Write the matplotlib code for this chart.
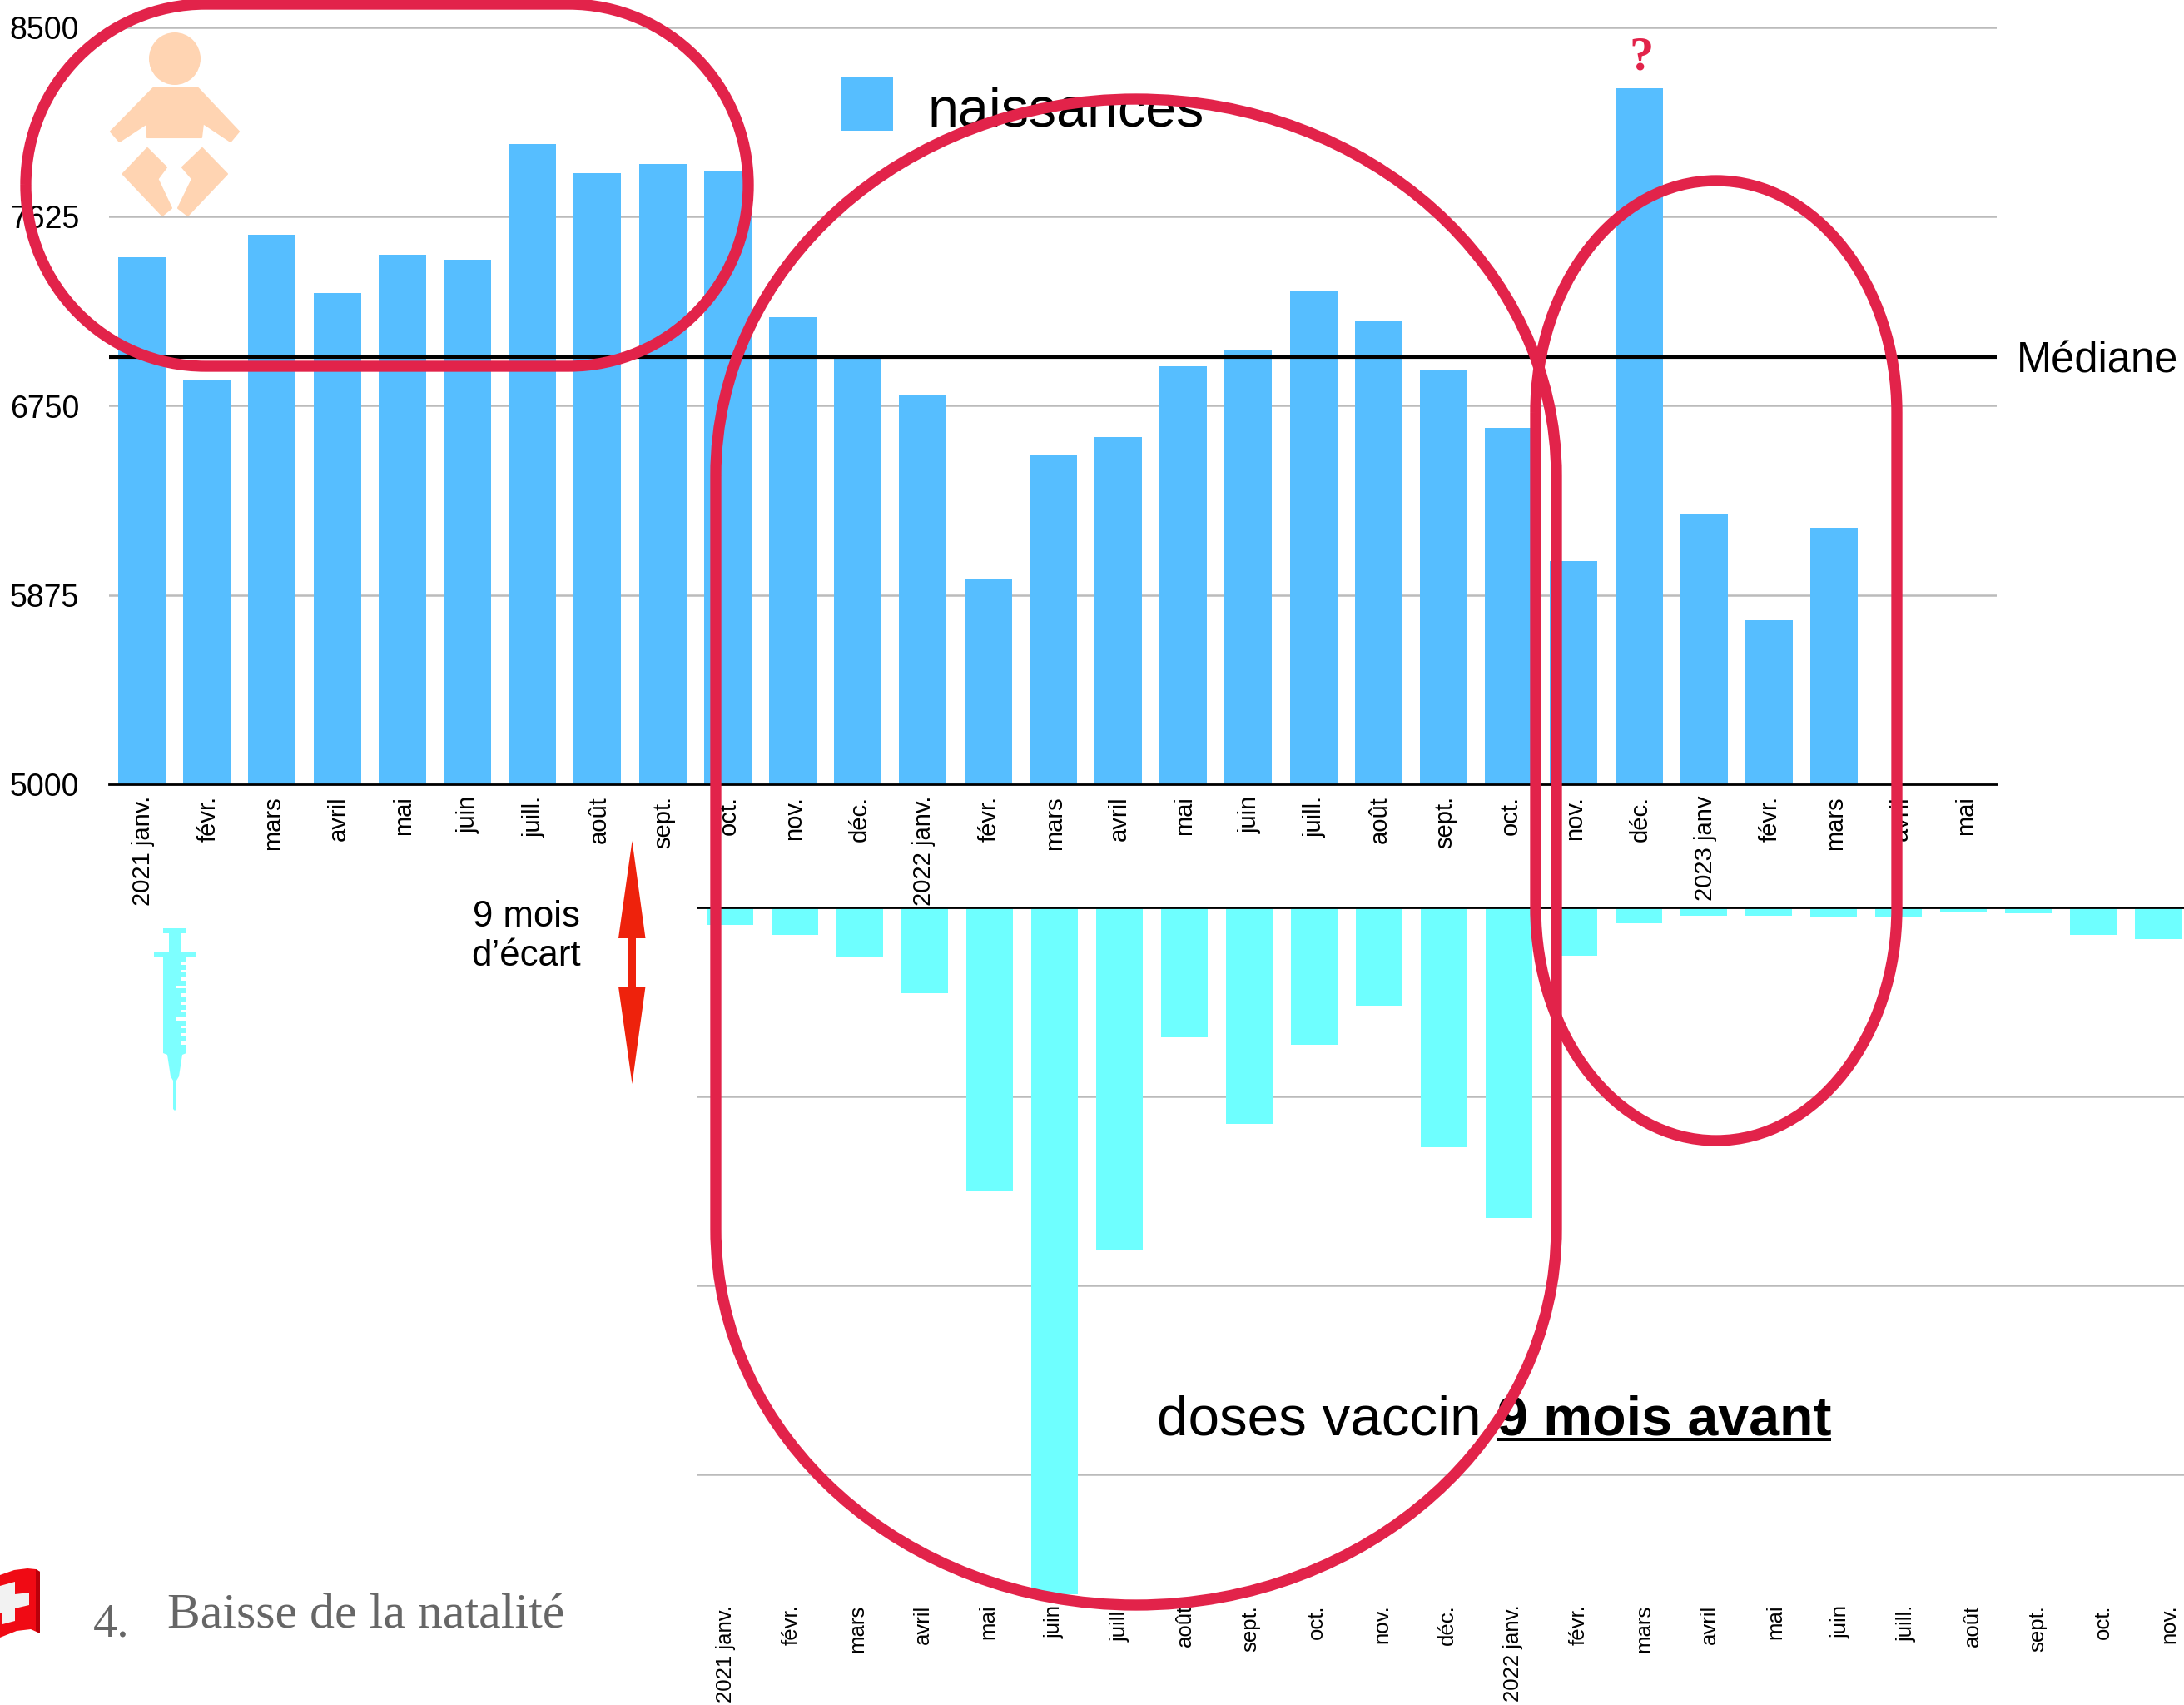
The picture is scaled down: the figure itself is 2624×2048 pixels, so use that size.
import matplotlib
matplotlib.use("Agg")
import matplotlib.pyplot as plt
from matplotlib.patches import Ellipse, PathPatch, Polygon, Rectangle
from matplotlib.path import Path

plt.rcParams['font.family'] = ['Liberation Sans', 'DejaVu Sans']

W, H = 2624, 2048

# births per month, from 2021 janv. to 2023 mars
birth_values = [7437, 6871, 7541, 7272, 7449, 7426, 7961, 7826, 7868, 7838, 7160, 6979,
                6802, 5947, 6525, 6606, 6933, 7006, 7283, 7141, 6913, 6648, 6030, 8219,
                6251, 5758, 6186]
birth_labels = ['2021 janv.', 'févr.', 'mars', 'avril', 'mai', 'juin', 'juill.', 'août', 'sept.',
                'oct.', 'nov.', 'déc.', '2022 janv.', 'févr.', 'mars', 'avril', 'mai', 'juin',
                'juill.', 'août', 'sept.', 'oct.', 'nov.', 'déc.', '2023 janv', 'févr.', 'mars',
                'avril', 'mai']
birth_ticks = [5000, 5875, 6750, 7625, 8500]
median_births = 6975

# vaccine doses per month (the axis has no scale in the picture, so the unit is a guess)
dose_values = [22600, 36300, 65000, 113400, 374400, 908500, 452600, 171800, 286300, 182200,
               129900, 317100, 410700, 63900, 20900, 11000, 11000, 13200, 12100, 5500, 7700,
               36300, 41800]
dose_labels = ['2021 janv.', 'févr.', 'mars', 'avril', 'mai', 'juin', 'juill.', 'août', 'sept.',
               'oct.', 'nov.', 'déc.', '2022 janv.', 'févr.', 'mars', 'avril', 'mai', 'juin',
               'juill.', 'août', 'sept.', 'oct.', 'nov.']
dose_grid = [0, 250000, 500000, 750000]

BLUE = '#56BEFF'
CYAN = '#6EFFFF'
GRID = '#BBBBBB'
RED = '#E2234A'
SKIN = '#FFD4B2'


def axes_from_pixels(fig, left, top, right, bottom):
    return fig.add_axes([left / W, 1 - bottom / H, (right - left) / W, (bottom - top) / H])


def rounded_loop(ax, left, right, top, bottom, rx, ry):
    """Closed red loop with elliptical corners, in figure pixels."""
    k = 0.5523
    verts = [
        (left, top + ry),
        (left, top + ry - k * ry), (left + rx - k * rx, top), (left + rx, top),
        (right - rx, top),
        (right - rx + k * rx, top), (right, top + ry - k * ry), (right, top + ry),
        (right, bottom - ry),
        (right, bottom - ry + k * ry), (right - rx + k * rx, bottom), (right - rx, bottom),
        (left + rx, bottom),
        (left + rx - k * rx, bottom), (left, bottom - ry + k * ry), (left, bottom - ry),
        (left, top + ry),
    ]
    codes = [Path.MOVETO, Path.CURVE4, Path.CURVE4, Path.CURVE4, Path.LINETO,
             Path.CURVE4, Path.CURVE4, Path.CURVE4, Path.LINETO,
             Path.CURVE4, Path.CURVE4, Path.CURVE4, Path.LINETO,
             Path.CURVE4, Path.CURVE4, Path.CURVE4, Path.LINETO]
    ax.add_patch(PathPatch(Path(verts, codes), fill=False, edgecolor=RED, lw=9.6, zorder=5))


def draw_baby(ax):
    ax.add_patch(Ellipse((210, 70.5), 62, 63, color=SKIN, lw=0))
    torso = [(184, 106), (238, 106), (287, 158), (277, 170), (244, 148), (242, 165),
             (177, 165), (177, 148), (143.5, 170), (133, 158)]
    left_leg = [(177, 178), (200, 201), (189.5, 215), (206, 250), (195, 259), (147.5, 209)]
    right_leg = [(243, 178), (273, 209), (225.6, 259), (214, 250), (231, 215), (219, 201)]
    for shape in (torso, left_leg, right_leg):
        ax.add_patch(Polygon(shape, closed=True, facecolor=SKIN, edgecolor=SKIN, lw=1.5, joinstyle='round'))


def draw_syringe(ax):
    color = '#7DFFFF'
    outline = [(196, 1115), (224, 1115), (224, 1121), (217, 1121), (217, 1143), (235, 1143),
               (235, 1149), (224, 1149), (224, 1265), (219, 1267), (215, 1293), (212, 1298),
               (212, 1332), (210, 1334), (208, 1332), (208, 1298), (205, 1293), (201, 1267),
               (196, 1265), (196, 1149), (185, 1149), (185, 1143), (203, 1143), (203, 1121),
               (196, 1121)]
    ax.add_patch(Polygon(outline, closed=True, facecolor=color, edgecolor='none'))
    # graduations cut out of the right side of the barrel
    for n in range(11):
        y = 1155 + n * 9.6
        width = 14 if n % 4 == 3 else 7
        ax.add_patch(Rectangle((225 - width, y), width, 3.5, facecolor='white', edgecolor='none'))


def draw_arrow(ax):
    shape = [(759.5, 1010), (775.5, 1127), (764, 1127), (764, 1185), (775.5, 1185), (759.5, 1302),
             (743, 1185), (755, 1185), (755, 1127), (743, 1127)]
    ax.add_patch(Polygon(shape, closed=True, facecolor='#EE220C', edgecolor='none'))


def draw_flag(ax):
    cloth = [(0, 1892), (17, 1886), (33, 1884), (43, 1885), (48, 1888), (48, 1962), (37, 1957),
             (20, 1959), (0, 1967)]
    ax.add_patch(Polygon(cloth, closed=True, facecolor='#F00A14', edgecolor='none'))
    # darker fold along the right edge
    fold = [(43, 1885), (48, 1888), (48, 1962), (43, 1959)]
    ax.add_patch(Polygon(fold, closed=True, facecolor='#B8000A', edgecolor='none'))
    cross = [(0, 1905), (18, 1900), (18, 1915), (35, 1913), (35, 1928), (18, 1932), (18, 1947),
             (3, 1951), (3, 1937), (0, 1938)]
    ax.add_patch(Polygon(cross, closed=True, facecolor='#F2F2F2', edgecolor='none'))


fig = plt.figure(figsize=(W / 100, H / 100), dpi=100, facecolor='white')

# births chart
ax_top = axes_from_pixels(fig, 131.4, 33, 2399.2, 942)
ax_top.bar(range(len(birth_values)), birth_values, width=0.73, color=BLUE, zorder=2)
ax_top.set_xlim(-0.5, len(birth_labels) - 0.5)
ax_top.set_ylim(5000, 8500)
ax_top.set_yticks(birth_ticks)
ax_top.set_xticks([i + 0.02 for i in range(len(birth_labels))])
ax_top.set_xticklabels(birth_labels, rotation=90, ha='center', va='top', fontsize=21)
ax_top.tick_params(axis='x', length=0, pad=10)
ax_top.tick_params(axis='y', length=0, pad=26, labelsize=27)
ax_top.grid(axis='y', color=GRID, lw=1.8, zorder=1)
ax_top.axhline(median_births, color='black', lw=3, zorder=3)
for side in ('top', 'left', 'right'):
    ax_top.spines[side].set_visible(False)
ax_top.spines['bottom'].set_linewidth(2)
ax_top.spines['bottom'].set_zorder(3)
ax_top.patch.set_alpha(0)

# doses chart, hanging from its top axis, bars run the same month scale with a 9 month shift
ax_low = axes_from_pixels(fig, 838, 1090, 2632, 1920)
ax_low.bar(range(len(dose_values)), dose_values, width=0.72, color=CYAN, zorder=2)
ax_low.set_xlim(-0.5, len(dose_labels) - 0.5)
ax_low.set_ylim(914000, 0)
ax_low.set_yticks(dose_grid)
ax_low.set_yticklabels([])
# the labels run a little wider than the bars in the picture
ax_low.set_xticks([i * 1.0103 - 0.06 for i in range(len(dose_labels))])
ax_low.set_xticklabels(dose_labels, rotation=90, ha='center', va='top', fontsize=18.5)
ax_low.tick_params(axis='both', length=0)
ax_low.tick_params(axis='x', pad=5.5)
ax_low.grid(axis='y', color=GRID, lw=1.8, zorder=1)
for side in ('left', 'right', 'bottom'):
    ax_low.spines[side].set_visible(False)
ax_low.spines['top'].set_linewidth(2)
ax_low.spines['top'].set_zorder(3)
ax_low.patch.set_alpha(0)

# everything drawn over the charts, in figure pixels
ax = fig.add_axes([0, 0, 1, 1])
ax.set_xlim(0, W)
ax.set_ylim(H, 0)
ax.axis('off')
ax.patch.set_alpha(0)

draw_baby(ax)
draw_syringe(ax)
draw_arrow(ax)
draw_flag(ax)

ax.add_patch(Rectangle((1011, 93), 62, 64, facecolor=BLUE, edgecolor='none'))
ax.text(1115, 151, 'naissances', fontsize=47.8, va='baseline', zorder=3)
ax.text(2423, 429, 'Médiane', fontsize=36.5, va='center_baseline')
ax.text(1972, 83, '?', fontsize=42, color=RED, family='Liberation Serif', weight='bold',
        ha='center', va='baseline')
ax.text(632, 1113, '9 mois', fontsize=31.5, ha='center', va='baseline')
ax.text(632, 1160, 'd’écart', fontsize=31.5, ha='center', va='baseline')

ax.text(1390, 1723, 'doses vaccin', fontsize=48.5, va='baseline', zorder=3)
ax.text(1799, 1723, '9 mois avant', fontsize=47.7, weight='bold', va='baseline', zorder=3)
ax.add_patch(Rectangle((1799, 1727), 401, 4, facecolor='black', edgecolor='none', zorder=3))

rounded_loop(ax, 31, 899, 5, 440, 216, 217)
rounded_loop(ax, 860, 1870, 119, 1928, 505, 452)
rounded_loop(ax, 1845, 2279, 217, 1370, 217, 279)

ax.text(112, 1965, '4.', fontsize=42, color='#666666', family='Liberation Serif', va='baseline')
ax.text(201, 1956, 'Baisse de la natalité', fontsize=43, color='#666666', family='Liberation Serif',
        va='baseline')

fig.savefig('out.png', dpi=100)
